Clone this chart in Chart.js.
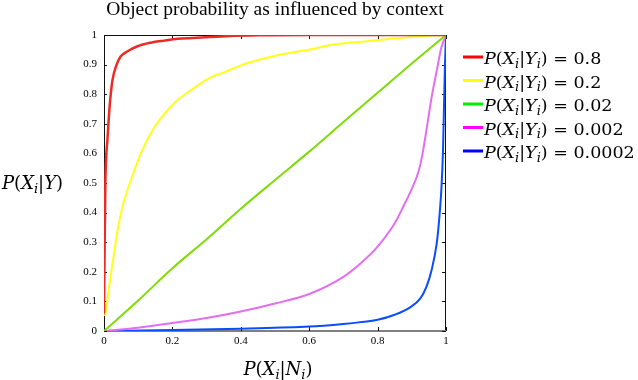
<!DOCTYPE html>
<html>
<head>
<meta charset="utf-8">
<script src="https://cdn.jsdelivr.net/npm/chart.js@4"></script>
<style>
html,body{margin:0;padding:0;background:#fff;}
#wrap{width:638px;height:380px;}
</style>
</head>
<body>
<div id="wrap"><canvas id="c" width="638" height="380"></canvas></div>
<script>
// ---- data ----
const chartTitle = 'Object probability as influenced by context';
const xTickLabels = ['0', '0.2', '0.4', '0.6', '0.8', '1'];
const yTickLabels = ['0', '0.1', '0.2', '0.3', '0.4', '0.5', '0.6', '0.7', '0.8', '0.9', '1'];
const seriesValues = ['0.8', '0.2', '0.02', '0.002', '0.0002'];

const redX = [0, 0.002, 0.004, 0.007, 0.01, 0.015, 0.02, 0.025, 0.035, 0.049, 0.069, 0.098, 0.137, 0.176, 0.215, 0.26, 0.358, 0.455, 0.6, 0.8, 1];
const redY = [0.06, 0.3, 0.5, 0.6, 0.646, 0.737, 0.804, 0.849, 0.894, 0.928, 0.945, 0.962, 0.974, 0.981, 0.987, 0.99, 0.996, 0.999, 1, 1, 1];

const yellowX = [0.003, 0.005, 0.015, 0.025, 0.04, 0.054, 0.079, 0.108, 0.137, 0.163, 0.211, 0.26, 0.309, 0.358, 0.406, 0.455, 0.504, 0.553, 0.602, 0.67, 0.768, 0.865, 0.963, 1];
const yellowY = [0.05, 0.065, 0.15, 0.229, 0.342, 0.42, 0.511, 0.601, 0.669, 0.714, 0.776, 0.818, 0.855, 0.877, 0.9, 0.917, 0.931, 0.942, 0.951, 0.968, 0.979, 0.99, 0.998, 1];

const greenX = [0, 0.1, 0.2, 0.3, 0.4, 0.5, 0.6, 0.7, 0.8, 0.9, 1];
const greenY = [0, 0.103, 0.212, 0.31, 0.413, 0.51, 0.606, 0.706, 0.805, 0.904, 1];

const magentaX = [0, 0.05, 0.1, 0.2, 0.3, 0.4, 0.5, 0.6, 0.7, 0.75, 0.8, 0.85, 0.875, 0.9, 0.92, 0.93, 0.943, 0.958, 0.973, 0.987, 1];
const magentaY = [0, 0.005, 0.011, 0.027, 0.044, 0.066, 0.093, 0.125, 0.183, 0.228, 0.285, 0.364, 0.42, 0.48, 0.54, 0.59, 0.68, 0.79, 0.88, 0.96, 1];

const blueX = [0, 0.2, 0.4, 0.6, 0.7, 0.75, 0.8, 0.85, 0.895, 0.925, 0.943, 0.958, 0.973, 0.98, 0.987, 0.991, 0.994, 0.997, 1];
const blueY = [0, 0.003, 0.008, 0.015, 0.024, 0.03, 0.038, 0.055, 0.08, 0.11, 0.15, 0.206, 0.297, 0.376, 0.49, 0.6, 0.75, 0.9, 1];

const colors = ['#ee2a24', '#ffff1a', '#7fdc0a', '#e46ef2', '#0a4cff'];
const legendColors = ['#ff0000', '#ffff00', '#00ee00', '#ff00ff', '#0000ff'];

function pts(xs, ys) { return xs.map((x, i) => ({x: x, y: ys[i]})); }

const seriesData = [pts(redX, redY), pts(yellowX, yellowY), pts(greenX, greenY), pts(magentaX, magentaY), pts(blueX, blueY)];

// ---- math-style text helper ----
const MFONT = '"DejaVu Serif"';
function segFont(seg, size) {
  if (seg.s) return 'italic ' + Math.round(size * 0.72) + 'px ' + MFONT;
  if (seg.i) return 'italic ' + size + 'px ' + MFONT;
  return size + 'px ' + MFONT;
}
function mathWidth(ctx, segs, size) {
  let w = 0;
  segs.forEach(s => { ctx.font = segFont(s, size); w += ctx.measureText(s.t).width; });
  return w;
}
function drawMath(ctx, segs, x, y, size, align) {
  const w = mathWidth(ctx, segs, size);
  let cx = align === 'center' ? x - w / 2 : (align === 'right' ? x - w : x);
  ctx.textBaseline = 'alphabetic';
  ctx.textAlign = 'left';
  ctx.fillStyle = '#000';
  segs.forEach(s => {
    ctx.font = segFont(s, size);
    ctx.fillText(s.t, cx, s.s ? y + size * 0.22 : y);
    cx += ctx.measureText(s.t).width;
  });
}
function cond(a, b, subB) {
  const segs = [{t: 'P', i: 1}, {t: '('}, {t: 'X', i: 1}, {t: 'i', s: 1}, {t: '|'}, {t: b, i: 1}];
  if (subB) segs.push({t: 'i', s: 1});
  segs.push({t: ')'});
  return segs;
}

const decor = {
  id: 'decor',
  beforeDatasetsDraw(chart) {
    const ctx = chart.ctx, a = chart.chartArea;
    const xs = chart.scales.x, ys = chart.scales.y;
    ctx.save();
    // frame
    ctx.strokeStyle = '#111';
    ctx.lineWidth = 1;
    ctx.beginPath();
    ctx.moveTo(a.left + 0.5, a.bottom);
    ctx.lineTo(a.left + 0.5, a.top + 0.5);
    ctx.lineTo(a.right - 0.5, a.top + 0.5);
    ctx.lineTo(a.right - 0.5, a.bottom);
    ctx.stroke();
    ctx.strokeStyle = '#808080';
    ctx.lineWidth = 2;
    ctx.beginPath();
    ctx.moveTo(a.left, a.bottom);
    ctx.lineTo(a.right, a.bottom);
    ctx.stroke();
    // inward ticks
    ctx.strokeStyle = '#111';
    ctx.lineWidth = 1;
    ctx.beginPath();
    xs.ticks.forEach(t => {
      const px = Math.round(xs.getPixelForValue(t.value)) + 0.5;
      ctx.moveTo(px, a.bottom); ctx.lineTo(px, a.bottom - 4);
      ctx.moveTo(px, a.top); ctx.lineTo(px, a.top + 4);
    });
    ys.ticks.forEach(t => {
      const py = Math.round(ys.getPixelForValue(t.value)) + 0.5;
      ctx.moveTo(a.left, py); ctx.lineTo(a.left + 3, py);
      ctx.moveTo(a.right, py); ctx.lineTo(a.right - 4, py);
    });
    ctx.stroke();
    ctx.restore();
  },
  afterDraw(chart) {
    const ctx = chart.ctx, a = chart.chartArea;
    ctx.save();
    // axis titles
    drawMath(ctx, cond('X', 'Y', false), 2, 189, 18, 'left');
    drawMath(ctx, cond('X', 'N', true), (a.left + a.right) / 2 + 3, 375, 18, 'center');
    // legend
    const lx = 463, ly0 = 58, step = 23.5;
    chart.data.datasets.forEach((ds, i) => {
      const y = ly0 + i * step;
      ctx.strokeStyle = legendColors[i];
      ctx.lineWidth = 3;
      ctx.beginPath();
      ctx.moveTo(lx, y - 1); ctx.lineTo(lx + 20, y - 1);
      ctx.stroke();
      const segs = cond('X', 'Y', true).concat([{t: ' = ' + seriesValues[i]}]);
      drawMath(ctx, segs, lx + 21, y + 6, 17.5, 'left');
    });
    ctx.restore();
  }
};

const datasets = seriesData.map((d, i) => ({
  label: 'P(X_i|Y_i) = ' + seriesValues[i],
  data: d,
  borderColor: colors[i],
  backgroundColor: colors[i],
  borderWidth: i === 0 ? 2.5 : 2,
  pointRadius: 0,
  fill: false,
  cubicInterpolationMode: 'monotone'
}));

new Chart(document.getElementById('c'), {
  type: 'line',
  data: {datasets: datasets},
  options: {
    responsive: false,
    devicePixelRatio: 1,
    animation: false,
    layout: {padding: {left: 0, right: 192, top: 0, bottom: 0}},
    plugins: {
      legend: {display: false},
      tooltip: {enabled: false},
      title: {
        display: true,
        text: chartTitle,
        fullSize: false,
        color: '#000',
        font: {family: '"Liberation Serif"', size: 19.5, weight: 'normal', lineHeight: 1.0},
        padding: {top: 0, bottom: 15.5}
      }
    },
    scales: {
      x: {
        type: 'linear', min: 0, max: 1,
        grid: {display: false, drawTicks: false},
        border: {display: false},
        ticks: {
          stepSize: 0.2, padding: 4, color: '#000',
          font: {family: '"Liberation Serif"', size: 11},
          maxRotation: 0,
          callback: (v, i) => xTickLabels[i]
        },
        afterFit: s => { s.height = 49; }
      },
      y: {
        type: 'linear', min: 0, max: 1,
        grid: {display: false, drawTicks: false},
        border: {display: false},
        ticks: {
          stepSize: 0.1, padding: 7, color: '#000',
          font: {family: '"Liberation Serif"', size: 11},
          callback: (v, i) => yTickLabels[i]
        },
        afterFit: s => { s.width = 104; }
      }
    }
  },
  plugins: [decor]
});
</script>
</body>
</html>
